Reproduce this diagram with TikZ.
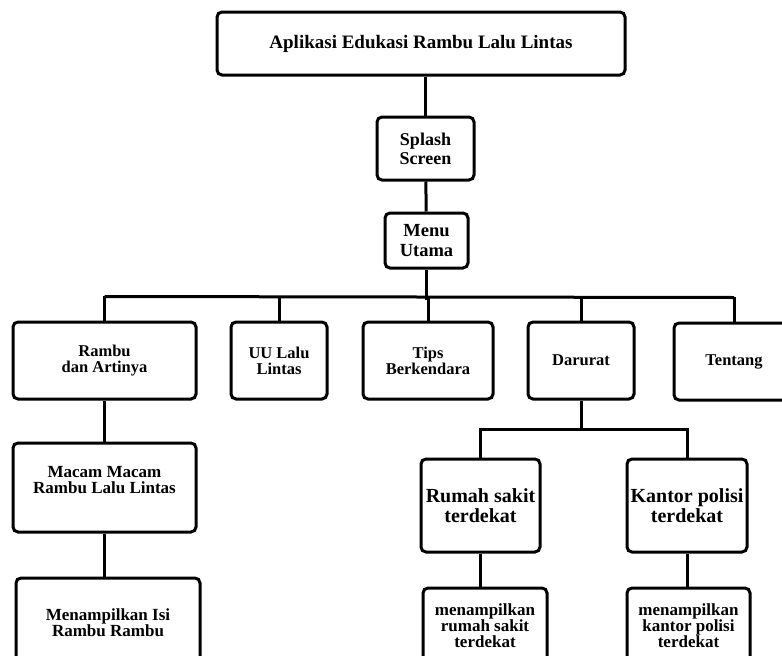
\documentclass[tikz,border=0pt]{standalone}
\usepackage{fontspec}
\setmainfont{Liberation Serif}

\begin{document}
\begin{tikzpicture}[x=1pt,y=-1pt,line width=3pt,
  box/.style={draw,rounded corners=5pt,align=center,inner sep=0pt},
  titlefont/.style={font=\bfseries\fontsize{19}{22}\selectfont},
  headfont/.style={font=\bfseries\fontsize{18}{19}\selectfont},
  menufont/.style={font=\bfseries\fontsize{16.5}{16}\selectfont},
  subfont/.style={font=\bfseries\fontsize{17}{16}\selectfont},
  placefont/.style={font=\bfseries\fontsize{20}{20}\selectfont}]
\useasboundingbox (0,0) rectangle (782,656);
\clip (0,0) rectangle (782,656);
\node[box,titlefont,minimum width=408pt,minimum height=63pt] (app) at (421,43.5) {Aplikasi Edukasi Rambu Lalu Lintas};
\node[box,headfont,minimum width=97pt,minimum height=63pt] (splash) at (425.5,148.5) {Splash\\Screen};
\node[box,headfont,minimum width=83pt,minimum height=55pt,font=\bfseries\fontsize{18.5}{20}\selectfont] (menu) at (426.5,240.5) {Menu\\Utama};
% main menu items
\node[box,menufont,minimum width=183pt,minimum height=77pt] (rambu) at (104.5,360.5) {Rambu\\dan Artinya};
\node[box,menufont,minimum width=96pt,minimum height=77pt] (uu) at (279,360.5) {UU Lalu\\Lintas};
\node[box,menufont,minimum width=130pt,minimum height=77pt] (tips) at (428,360.5) {Tips\\Berkendara};
\node[box,menufont,minimum width=106pt,minimum height=77pt] (darurat) at (581,360.5) {Darurat};
\node[box,menufont,minimum width=120pt,minimum height=77pt] (tentang) at (734,361.5) {Tentang};
% sub menus
\node[box,subfont,minimum width=183pt,minimum height=89pt,text depth=16pt] (macam) at (104.5,487.5) {Macam Macam\\Rambu Lalu Lintas};
\node[box,subfont,minimum width=184pt,minimum height=90pt] (isi) at (108,623) {Menampilkan Isi\\Rambu Rambu};
\node[box,placefont,minimum width=119pt,minimum height=93pt] (rumah) at (480.5,505.5) {Rumah sakit\\terdekat};
\node[box,placefont,minimum width=120pt,minimum height=93pt] (kantor) at (687,505.5) {Kantor polisi\\terdekat};
\node[box,subfont,minimum width=124pt,minimum height=76pt] (showrs) at (485,626) {menampilkan\\rumah sakit\\terdekat};
\node[box,subfont,minimum width=123pt,minimum height=76pt] (showkp) at (688.5,626) {menampilkan\\kantor polisi\\terdekat};
% connectors
\draw (splash.north) -- (splash.north |- app.south);
\draw (splash) -- (menu);
\draw (menu.south) -- ++(0,30);
\draw ([yshift=24pt]rambu.north) -- ([yshift=24pt]tentang.north);
\foreach \item in {rambu,uu,tips,darurat,tentang}
  \draw (\item.north) -- ++(0,-24.5);
\draw (rambu) -- (macam);
\draw (macam.south) -- (macam.south |- isi.north);
\draw (darurat.south) -- ++(0,30.5);
\draw (rumah.north) -- ++(0,-28) -| (kantor.north);
\draw (rumah.south) -- (rumah.south |- showrs.north);
\draw (kantor.south) -- (kantor.south |- showkp.north);
\end{tikzpicture}
\end{document}
